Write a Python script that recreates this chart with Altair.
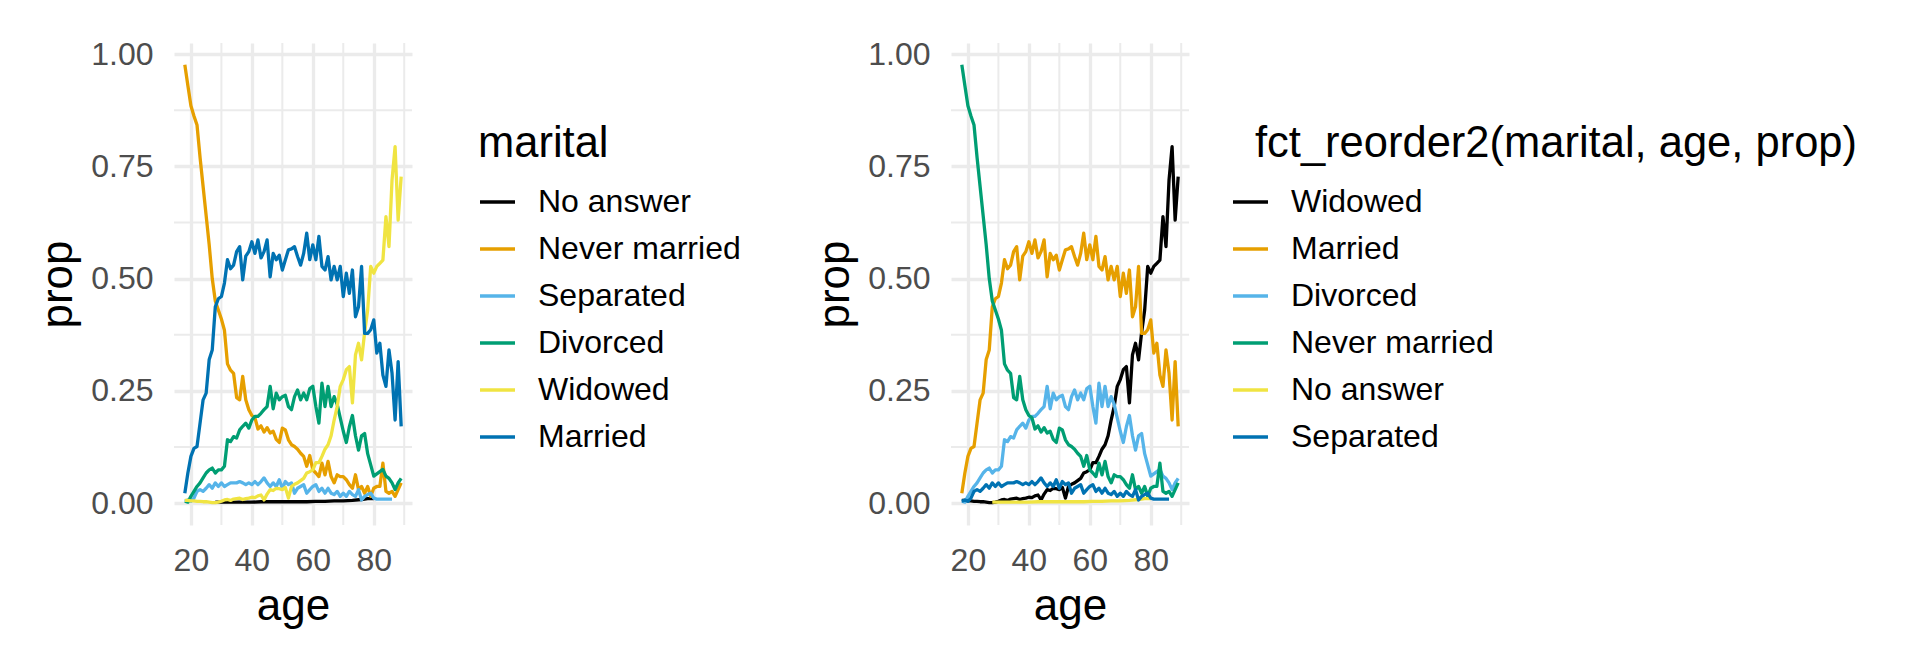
import altair as alt
import pandas as pd

FONT = "Liberation Sans"

# ---------------- data ----------------
ages = list(range(18, 90))

never_married = [0.976, 0.930, 0.885, 0.862, 0.842, 0.770, 0.705, 0.640, 0.575, 0.500,
                 0.450, 0.430, 0.410, 0.385, 0.310, 0.296, 0.289, 0.235, 0.230, 0.282,
                 0.230, 0.208, 0.195, 0.190, 0.165, 0.172, 0.158, 0.168, 0.156, 0.160,
                 0.142, 0.135, 0.167, 0.163, 0.141, 0.130, 0.126, 0.120, 0.111, 0.104,
                 0.082, 0.106, 0.074, 0.067, 0.059, 0.089, 0.063, 0.093, 0.059, 0.045,
                 0.063, 0.059, 0.059, 0.052, 0.041, 0.033, 0.063, 0.030, 0.037, 0.022,
                 0.037, 0.015, 0.033, 0.037, 0.037, 0.089, 0.026, 0.022, 0.026, 0.015,
                 0.030, 0.045]

married = [0.022, 0.067, 0.104, 0.122, 0.126, 0.178, 0.230, 0.245, 0.320, 0.341,
           0.437, 0.455, 0.460, 0.490, 0.542, 0.522, 0.530, 0.560, 0.571, 0.497,
           0.550, 0.560, 0.582, 0.556, 0.586, 0.546, 0.560, 0.586, 0.504, 0.556,
           0.542, 0.552, 0.519, 0.542, 0.564, 0.566, 0.571, 0.549, 0.530, 0.556,
           0.601, 0.542, 0.575, 0.542, 0.594, 0.527, 0.519, 0.549, 0.497, 0.527,
           0.497, 0.527, 0.460, 0.512, 0.467, 0.519, 0.415, 0.437, 0.527, 0.378,
           0.378, 0.386, 0.408, 0.334, 0.356, 0.285, 0.260, 0.341, 0.289, 0.185,
           0.315, 0.171]

divorced = [0.004, 0.002, 0.015, 0.026, 0.037, 0.045, 0.056, 0.067, 0.074, 0.078,
            0.067, 0.074, 0.074, 0.082, 0.141, 0.137, 0.148, 0.145, 0.163, 0.171,
            0.178, 0.167, 0.185, 0.193, 0.193, 0.200, 0.208, 0.215, 0.260, 0.210,
            0.245, 0.230, 0.237, 0.240, 0.215, 0.208, 0.237, 0.252, 0.230, 0.245,
            0.230, 0.255, 0.260, 0.215, 0.178, 0.267, 0.215, 0.260, 0.215, 0.237,
            0.220, 0.190, 0.160, 0.135, 0.170, 0.195, 0.150, 0.118, 0.150, 0.155,
            0.110, 0.085, 0.060, 0.065, 0.070, 0.075, 0.060, 0.055, 0.045, 0.030,
            0.045, 0.055]

widowed = [0.006, 0.006, 0.005, 0.005, 0.004, 0.004, 0.003, 0.003, 0.002, 0.001,
           0.001, 0.002, 0.004, 0.007, 0.008, 0.006, 0.009, 0.010, 0.011, 0.008,
           0.010, 0.011, 0.013, 0.012, 0.016, 0.018, 0.007, 0.020, 0.030, 0.028,
           0.033, 0.032, 0.030, 0.035, 0.011, 0.037, 0.042, 0.045, 0.050, 0.055,
           0.067, 0.070, 0.074, 0.090, 0.090, 0.104, 0.120, 0.130, 0.150, 0.185,
           0.215, 0.260, 0.275, 0.297, 0.304, 0.223, 0.330, 0.356, 0.319, 0.380,
           0.430, 0.527, 0.512, 0.527, 0.534, 0.541, 0.638, 0.571, 0.720, 0.794,
           0.630, 0.727]

separated_ages = list(range(18, 87))
separated = [0.004, 0.007, 0.004, 0.011, 0.026, 0.030, 0.026, 0.033, 0.041, 0.033,
             0.045, 0.037, 0.045, 0.037, 0.041, 0.045, 0.045, 0.045, 0.048, 0.045,
             0.041, 0.045, 0.041, 0.048, 0.041, 0.048, 0.056, 0.045, 0.037, 0.045,
             0.037, 0.052, 0.033, 0.048, 0.041, 0.045, 0.022, 0.033, 0.037, 0.041,
             0.022, 0.030, 0.037, 0.041, 0.026, 0.033, 0.022, 0.033, 0.022, 0.019,
             0.026, 0.015, 0.022, 0.015, 0.026, 0.019, 0.015, 0.030, 0.007, 0.015,
             0.019, 0.022, 0.011, 0.009, 0.009, 0.009, 0.009, 0.009, 0.009]

no_answer_ages = [28, 31, 34, 37, 40, 43, 46, 49, 52, 55, 58, 61, 64, 67, 70, 73, 76, 78, 80]
no_answer = [0.002, 0.002, 0.002, 0.002, 0.002, 0.003, 0.003, 0.003, 0.003, 0.003,
             0.003, 0.004, 0.004, 0.005, 0.005, 0.006, 0.008, 0.010, 0.010]

left_order = ["No answer", "Never married", "Separated", "Divorced", "Widowed", "Married"]
right_order = ["Widowed", "Married", "Divorced", "Never married", "No answer", "Separated"]
palette = ["#000000", "#E69F00", "#56B4E9", "#009E73", "#F0E442", "#0072B2"]

x_major = [20, 40, 60, 80]
x_minor = [30, 50, 70, 90]
y_major = [0, 0.25, 0.5, 0.75, 1.0]
y_minor = [0.125, 0.375, 0.625, 0.875]

series = {
    "Never married": (ages, never_married),
    "Married": (ages, married),
    "Divorced": (ages, divorced),
    "Widowed": (ages, widowed),
    "Separated": (separated_ages, separated),
    "No answer": (no_answer_ages, no_answer),
}


def frame(order):
    rows = []
    for k, name in enumerate(order):
        xs, ys = series[name]
        for a, p in zip(xs, ys):
            rows.append({"age": a, "prop": p, "marital": name, "k": k})
    return pd.DataFrame(rows)


x_scale = alt.Scale(domain=[14.45, 92.55], nice=False, zero=False)
y_scale = alt.Scale(domain=[-0.0488, 1.0246], nice=False, zero=False)
x_axis = alt.Axis(values=x_major, title="age", format="d")
y_axis = alt.Axis(values=y_major, title="prop", format=".2f")

W, H = 238, 482


def panel(order, legend_title, symbol_offset):
    df = frame(order)
    vgrid = alt.Chart(pd.DataFrame({"age": x_minor})).mark_rule(
        color="#EBEBEB", strokeWidth=2
    ).encode(x=alt.X("age:Q", scale=x_scale, axis=x_axis))
    hgrid = alt.Chart(pd.DataFrame({"prop": y_minor})).mark_rule(
        color="#EBEBEB", strokeWidth=2
    ).encode(y=alt.Y("prop:Q", scale=y_scale, axis=y_axis))
    lines = alt.Chart(df).mark_line(strokeWidth=3.3, strokeJoin="round").encode(
        x=alt.X("age:Q", scale=x_scale, axis=x_axis),
        y=alt.Y("prop:Q", scale=y_scale, axis=y_axis),
        color=alt.Color(
            "marital:N",
            scale=alt.Scale(domain=order, range=palette),
            legend=alt.Legend(
                title=legend_title,
                orient="none",
                legendX=304,
                legendY=80,
                direction="vertical",
                symbolType="stroke",
                symbolSize=1225,
                symbolStrokeWidth=3.3,
                symbolOffset=symbol_offset,
                labelOffset=21,
                rowPadding=11,
                titlePadding=16,
                titleAnchor="start",
                titleAlign="left",
                titleFontSize=43.5,
                titleFont=FONT,
                titleFontWeight="normal",
                titleColor="#000000",
                titleLimit=2000,
                labelFontSize=32,
                labelFont=FONT,
                labelColor="#000000",
                labelLimit=2000,
                padding=0,
            ),
        ),
        order=alt.Order("age:Q"),
    )
    return alt.layer(vgrid, hgrid, lines).properties(width=W, height=H)


left = panel(left_order, "marital", 0)
right = panel(right_order, "fct_reorder2(marital, age, prop)", -24)

chart = (
    alt.hconcat(left, right, spacing=72)
    .resolve_scale(color="independent")
    .properties(padding={"left": 28, "top": 30, "right": 5, "bottom": 5}, background="white")
    .configure_view(stroke=None)
    .configure_axis(
        labelFont=FONT,
        titleFont=FONT,
        labelFontSize=32,
        labelColor="#4D4D4D",
        titleFontSize=44,
        titleFontWeight="normal",
        titleColor="#000000",
        domain=False,
        ticks=False,
        gridColor="#EBEBEB",
        gridWidth=3.3,
    )
    .configure_axisX(labelPadding=20, titlePadding=8)
    .configure_axisY(labelPadding=21, titlePadding=10)
)

chart.save("out.html", embed_options={"renderer": "svg", "actions": False})
